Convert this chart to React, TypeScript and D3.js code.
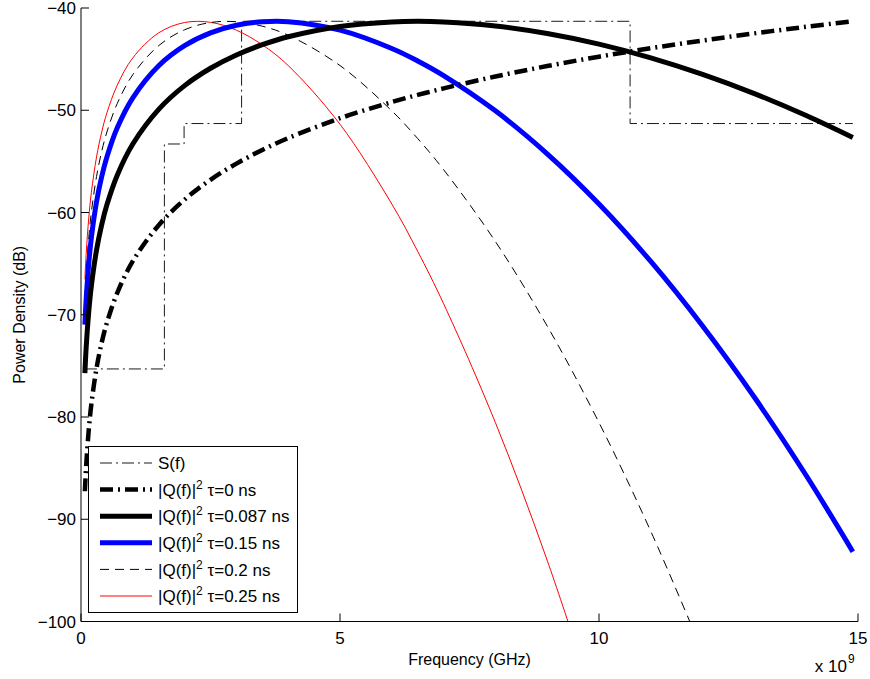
import React from "react";
import * as d3 from "d3";

// Frequency grid (GHz) at which the curves were read
const FREQ_GHZ = [0.075, 0.1, 0.15, 0.2, 0.3, 0.4, 0.5, 0.7, 1, 1.5, 2, 2.5, 3, 3.5, 4, 5, 6, 6.5, 7, 8, 9, 10, 11, 12, 13, 14, 14.9];

// |Q(f)|^2 curves (dB)
const Q_TAU_0 = [-87.26, -84.76, -81.24, -78.74, -75.22, -72.72, -70.78, -67.86, -64.76, -61.24, -58.74, -56.8, -55.22, -53.88, -52.72, -50.78, -49.2, -48.5, -47.86, -46.7, -45.68, -44.76, -43.93, -43.18, -42.48, -41.84, -41.3];
const Q_TAU_0087 = [-75.7, -73.2, -69.68, -67.18, -63.67, -61.18, -59.25, -56.35, -53.3, -49.91, -47.59, -45.89, -44.59, -43.59, -42.81, -41.8, -41.36, -41.3, -41.36, -41.75, -42.49, -43.53, -44.87, -46.49, -48.37, -50.52, -52.67];
const Q_TAU_015 = [-70.97, -68.47, -64.96, -62.46, -58.96, -56.48, -54.57, -51.72, -48.78, -45.64, -43.68, -42.43, -41.69, -41.35, -41.34, -42.17, -43.96, -45.18, -46.61, -50.06, -54.26, -59.17, -64.79, -71.1, -78.07, -85.72, -93.17];
const Q_TAU_02 = [-68.47, -65.98, -62.46, -59.97, -56.48, -54.02, -52.13, -49.34, -46.52, -43.68, -42.13, -41.42, -41.34, -41.78, -42.66, -45.63, -50.06, -52.77, -55.81, -62.84, -71.1, -80.55, -91.18, -102.98];
const Q_TAU_025 = [-66.54, -64.04, -60.53, -58.04, -54.57, -52.13, -50.26, -47.55, -44.88, -42.43, -41.42, -41.4, -42.17, -43.6, -45.63, -51.37, -59.17, -63.8, -68.92, -80.55, -94.02, -109.31];

// S(f) emission mask: band edges (GHz) and levels (dB)
const MASK_EDGES_GHZ = [0.075, 1.61, 1.99, 3.1, 10.6, 14.9];
const MASK_LEVELS_DB = [-75.3, -53.3, -51.3, -41.3, -51.3];

const X_TICKS = [0, 5, 10, 15];
const Y_TICKS = [-40, -50, -60, -70, -80, -90, -100];

const LEGEND_LABELS = ["S(f)", "τ=0 ns", "τ=0.087 ns", "τ=0.15 ns", "τ=0.2 ns", "τ=0.25 ns"];

const FONT = "'Liberation Sans', Arial, Helvetica, sans-serif";

export default function App() {
  const W = 870, H = 679;
  const left = 81, right = 858, top = 8, bottom = 621.5;
  const x = d3.scaleLinear().domain([0, 15]).range([left, right]);
  const y = d3.scaleLinear().domain([-100, -40]).range([bottom, top]);

  const line = d3
    .line<[number, number]>()
    .x((d) => x(d[0]))
    .y((d) => y(d[1]))
    .curve(d3.curveCatmullRom.alpha(0.5));

  const pts = (vals: number[]) => vals.map((v, i) => [FREQ_GHZ[i], v] as [number, number]);

  const maskPts: [number, number][] = MASK_LEVELS_DB.map((lv, i) => [MASK_EDGES_GHZ[i], lv] as [number, number]);
  maskPts.push([MASK_EDGES_GHZ[MASK_EDGES_GHZ.length - 1], MASK_LEVELS_DB[MASK_LEVELS_DB.length - 1]]);
  const maskLine = d3
    .line<[number, number]>()
    .x((d) => x(d[0]))
    .y((d) => y(d[1]))
    .curve(d3.curveStepAfter);

  const styles = [
    { stroke: "#000", width: 0.9, dash: "12 4 2 4" },
    { stroke: "#000", width: 4.5, dash: "13 5 2 5" },
    { stroke: "#000", width: 5, dash: undefined },
    { stroke: "#0000ff", width: 5, dash: undefined },
    { stroke: "#000", width: 1, dash: "9 6" },
    { stroke: "#ff0000", width: 1, dash: undefined },
  ];

  const series = [Q_TAU_025, Q_TAU_02, Q_TAU_015, Q_TAU_0087, Q_TAU_0];
  const seriesStyle = [styles[5], styles[4], styles[3], styles[2], styles[1]];

  const legX = 88.5, legY = 446.5, legW = 209, legH = 166;
  const rowY = (i: number) => legY + 16.5 + i * 26.6;

  return (
    <svg
      width={W}
      height={H}
      style={{ position: "absolute", left: 0, top: 0, background: "#fff" }}
      fontFamily={FONT}
    >
      <defs>
        <clipPath id="plotclip">
          <rect x={left} y={top} width={right - left} height={bottom - top} />
        </clipPath>
      </defs>
      <rect x={0} y={0} width={W} height={H} fill="#fff" />

      <g clipPath="url(#plotclip)" fill="none" strokeLinejoin="round">
        <path d={maskLine(maskPts) || ""} stroke={styles[0].stroke} strokeWidth={styles[0].width} strokeDasharray={styles[0].dash} />
        {series.map((s, i) => (
          <path
            key={i}
            d={line(pts(s)) || ""}
            stroke={seriesStyle[i].stroke}
            strokeWidth={seriesStyle[i].width}
            strokeDasharray={seriesStyle[i].dash}
          />
        ))}
      </g>

      {/* axes */}
      <line x1={left} x2={left} y1={top} y2={bottom} stroke="#000" strokeWidth={1} />
      <line x1={left} x2={right} y1={bottom} y2={bottom} stroke="#000" strokeWidth={1} />
      {Y_TICKS.map((t) => (
        <g key={t}>
          <line x1={left} x2={left + 8} y1={y(t)} y2={y(t)} stroke="#000" strokeWidth={1} />
          <text x={left - 5} y={y(t)} dy="0.36em" textAnchor="end" fontSize={17}>
            {"\u2212" + Math.abs(t)}
          </text>
        </g>
      ))}
      {X_TICKS.map((t) => (
        <g key={t}>
          <line x1={x(t)} x2={x(t)} y1={bottom} y2={bottom - 8} stroke="#000" strokeWidth={1} />
          <text x={x(t)} y={644} textAnchor="middle" fontSize={17}>
            {t}
          </text>
        </g>
      ))}
      <text x={847} y={672} textAnchor="end" fontSize={17}>x 10</text>
      <text x={848} y={663} fontSize={12}>9</text>

      <text x={(left + right) / 2} y={665} textAnchor="middle" fontSize={16}>
        Frequency (GHz)
      </text>
      <text transform={`translate(25,${(top + bottom) / 2}) rotate(-90)`} textAnchor="middle" fontSize={16}>
        Power Density (dB)
      </text>

      {/* legend */}
      <rect x={legX} y={legY} width={legW} height={legH} fill="#fff" stroke="#000" strokeWidth={1} />
      {LEGEND_LABELS.map((lab, i) => (
        <g key={i}>
          <line
            x1={100}
            x2={152}
            y1={rowY(i)}
            y2={rowY(i)}
            stroke={styles[i].stroke}
            strokeWidth={styles[i].width}
            strokeDasharray={styles[i].dash}
          />
          {i === 0 ? (
            <text x={158} y={rowY(i)} dy="0.36em" fontSize={17}>
              {lab}
            </text>
          ) : (
            <text x={158} y={rowY(i)} dy="0.36em" fontSize={17}>
              |Q(f)|
              <tspan dy={-7} fontSize={12}>2</tspan>
              <tspan dy={7}>{" " + lab}</tspan>
            </text>
          )}
        </g>
      ))}
    </svg>
  );
}
